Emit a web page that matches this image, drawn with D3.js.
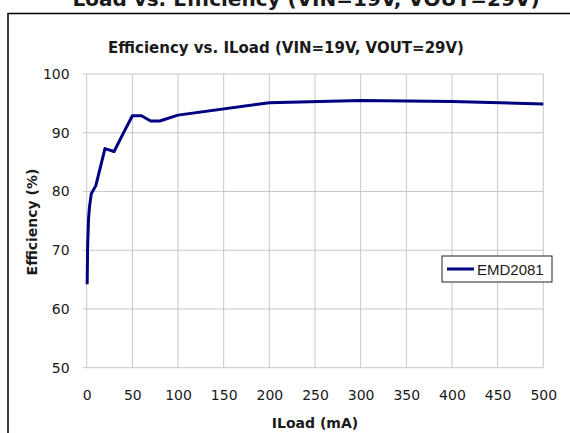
<!DOCTYPE html>
<html>
<head>
<meta charset="utf-8">
<script src="https://cdn.jsdelivr.net/npm/d3@7"></script>
<style>
body { margin: 0; background: #fff; }
text { font-family: "DejaVu Sans", sans-serif; fill: #1a1a1a; }
</style>
</head>
<body>
<svg width="570" height="433"></svg>
<script>
var svg = d3.select("svg"),
	width = +svg.attr("width"),
	height = +svg.attr("height");

// data
var iload = [0.5, 1, 2, 3, 5, 10, 20, 30, 40, 50, 60, 70, 80, 100, 200, 300, 400, 500];
var efficiency = [64.2, 70.5, 75.3, 77.3, 79.6, 81.0, 87.3, 86.8, 89.9, 92.9, 92.9, 92.0, 92.0, 93.0, 95.1, 95.5, 95.3, 94.9];
var xTicks = [0, 50, 100, 150, 200, 250, 300, 350, 400, 450, 500];
var yTicks = [50, 60, 70, 80, 90, 100];
var seriesName = "EMD2081";

// plot area edges
var plotLeft = 86.7, plotRight = 543.3, plotTop = 74, plotBottom = 367.7;

var x = d3.scaleLinear().domain([0, 500]).range([plotLeft, plotRight]);
var y = d3.scaleLinear().domain([50, 100]).range([plotBottom, plotTop]);

// outer document title (cut by the top edge, as in the original)
svg.append("text")
	.attr("x", 306)
	.attr("y", 6)
	.attr("text-anchor", "middle")
	.style("font-size", "20px")
	.style("font-weight", "bold")
	.text("Load vs. Efficiency (VIN=19V, VOUT=29V)");

// chart frame, only left and top visible
svg.append("path")
	.attr("d", "M8," + height + "V13.5H" + width)
	.attr("fill", "none")
	.attr("stroke", "#000")
	.attr("stroke-width", 1.5);

// chart title
svg.append("text")
	.attr("x", 286)
	.attr("y", 53)
	.attr("text-anchor", "middle")
	.style("font-size", "15px")
	.style("font-weight", "bold")
	.text("Efficiency vs. ILoad (VIN=19V, VOUT=29V)");

// gridlines
var grid = svg.append("g");
grid.selectAll(".vgrid")
	.data(xTicks)
	.enter().append("line")
	.attr("x1", function (d) { return x(d); })
	.attr("x2", function (d) { return x(d); })
	.attr("y1", plotTop)
	.attr("y2", plotBottom)
	.attr("stroke", "#c8c8c8")
	.attr("stroke-width", 1);

grid.selectAll(".hgrid")
	.data(yTicks)
	.enter().append("line")
	.attr("x1", plotLeft - 4)
	.attr("x2", plotRight)
	.attr("y1", function (d) { return y(d); })
	.attr("y2", function (d) { return y(d); })
	.attr("stroke", "#c8c8c8")
	.attr("stroke-width", 1);

// axes (labels only)
var xAxis = svg.append("g")
	.attr("transform", "translate(0," + plotBottom + ")")
	.call(d3.axisBottom(x).tickValues(xTicks).tickSize(0).tickPadding(22));
var yAxis = svg.append("g")
	.attr("transform", "translate(" + plotLeft + ",0)")
	.call(d3.axisLeft(y).tickValues(yTicks).tickSize(0).tickPadding(17));

[xAxis, yAxis].forEach(function (a) {
	a.select(".domain").remove();
	a.selectAll("text")
		.style("font-family", "DejaVu Sans, sans-serif")
		.style("font-size", "14px")
		.attr("fill", "#1a1a1a");
});

// axis titles
svg.append("text")
	.attr("x", 315)
	.attr("y", 428)
	.attr("text-anchor", "middle")
	.style("font-size", "14px")
	.style("font-weight", "bold")
	.text("ILoad (mA)");

svg.append("text")
	.attr("transform", "translate(37,222) rotate(-90)")
	.attr("text-anchor", "middle")
	.style("font-size", "14px")
	.style("font-weight", "bold")
	.text("Efficiency (%)");

// the curve
var line = d3.line()
	.x(function (d) { return x(d[0]); })
	.y(function (d) { return y(d[1]); });

svg.append("path")
	.datum(d3.zip(iload, efficiency))
	.attr("d", line)
	.attr("fill", "none")
	.attr("stroke", "#000080")
	.attr("stroke-width", 3)
	.attr("stroke-linejoin", "round");

// legend
var legend = svg.append("g").attr("transform", "translate(442,256)");
legend.append("rect")
	.attr("width", 110)
	.attr("height", 26)
	.attr("fill", "#fff")
	.attr("stroke", "#222")
	.attr("stroke-width", 1);
legend.append("line")
	.attr("x1", 5).attr("x2", 32)
	.attr("y1", 13).attr("y2", 13)
	.attr("stroke", "#000080")
	.attr("stroke-width", 3);
legend.append("text")
	.attr("x", 35)
	.attr("y", 18.5)
	.style("font-family", "Liberation Sans, Arial, sans-serif")
	.style("font-size", "15px")
	.text(seriesName);
</script>
</body>
</html>
